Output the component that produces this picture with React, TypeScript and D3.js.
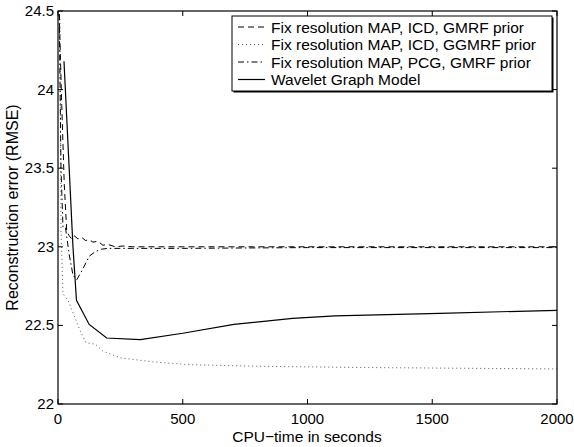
import React from "react";
import * as d3 from "d3";

const xTicks = [0, 500, 1000, 1500, 2000];
const yTicks = [22, 22.5, 23, 23.5, 24, 24.5];

const dashT = [5, 15, 25, 35, 45, 55, 65, 80, 95, 110, 125, 140, 160, 180, 200, 230, 260, 300, 400, 500, 700, 1000, 1500, 2000];
const dashV = [24.48, 23.9, 23.4, 23.1, 23.07, 23.05, 23.07, 23.05, 23.06, 23.04, 23.045, 23.03, 23.035, 23.01, 23.015, 23.0, 23.005, 23.0, 23.0, 23.0, 23.0, 23.0, 23.0, 23.0];

const dotT = [8, 12, 20, 40, 60, 88, 112, 150, 180, 250, 380, 530, 800, 1230, 2000];
const dotV = [24.45, 23.1, 22.7, 22.66, 22.58, 22.47, 22.39, 22.38, 22.336, 22.294, 22.268, 22.25, 22.24, 22.232, 22.223];

const dashDotT = [5, 12, 20, 30, 45, 60, 75, 100, 125, 150, 175, 200, 300, 500, 1000, 2000];
const dashDotV = [24.48, 23.5, 23.12, 23.12, 22.95, 22.82, 22.79, 22.86, 22.94, 22.97, 22.985, 22.99, 22.99, 22.99, 22.995, 22.995];

const solidT = [24, 60, 74, 125, 195, 330, 500, 705, 940, 1110, 1530, 2000];
const solidV = [24.18, 23.0, 22.66, 22.506, 22.42, 22.41, 22.45, 22.506, 22.545, 22.56, 22.577, 22.596];

const legendLabels = [
  "Fix resolution MAP, ICD, GMRF prior",
  "Fix resolution MAP, ICD, GGMRF prior",
  "Fix resolution MAP, PCG, GMRF prior",
  "Wavelet Graph Model",
];

const styles = [
  { dash: "6,4", color: "#000", w: 1 },
  { dash: "1,3", color: "#555", w: 1 },
  { dash: "6,3,1.5,3", color: "#000", w: 1 },
  { dash: "", color: "#000", w: 1.2 },
];

export default function App() {
  const W = 574, H = 447;
  const L = 58, R = 557, T = 11, B = 404;
  const x = d3.scaleLinear().domain([0, 2000]).range([L, R]);
  const y = d3.scaleLinear().domain([22, 24.5]).range([B, T]);
  const line = d3.line<[number, number]>().x(d => x(d[0])).y(d => y(d[1]));
  const series = [
    d3.zip(dashT, dashV) as [number, number][],
    d3.zip(dotT, dotV) as [number, number][],
    d3.zip(dashDotT, dashDotV) as [number, number][],
    d3.zip(solidT, solidV) as [number, number][],
  ];
  const font = "'Liberation Sans', Arial, Helvetica, sans-serif";
  const tl = 5;
  const lgX = 232, lgY = 16, lgW = 320, lgH = 75;
  return (
    <svg width={W} height={H} style={{ position: "absolute", left: 0, top: 0 }} fontFamily={font}>
      <rect width={W} height={H} fill="#fff" />
      {series.map((s, i) => (
        <path key={i} d={line(s) || ""} fill="none" stroke={styles[i].color}
          strokeWidth={styles[i].w} strokeDasharray={styles[i].dash} />
      ))}
      <rect x={L} y={T} width={R - L} height={B - T} fill="none" stroke="#000" strokeWidth={1.2} />
      {xTicks.map(t => (
        <g key={t}>
          <line x1={x(t)} x2={x(t)} y1={B} y2={B - tl} stroke="#000" />
          <line x1={x(t)} x2={x(t)} y1={T} y2={T + tl} stroke="#000" />
          <text x={x(t)} y={424} fontSize={15} textAnchor="middle">{t}</text>
        </g>
      ))}
      {yTicks.map(t => (
        <g key={t}>
          <line x1={L} x2={L + tl} y1={y(t)} y2={y(t)} stroke="#000" />
          <line x1={R} x2={R - tl} y1={y(t)} y2={y(t)} stroke="#000" />
          <text x={54} y={y(t) + 5} fontSize={15} textAnchor="end">{t}</text>
        </g>
      ))}
      <text x={307} y={442} fontSize={15.5} textAnchor="middle">CPU−time in seconds</text>
      <text transform={`translate(18,${(T + B) / 2}) rotate(-90)`} fontSize={16} textAnchor="middle">Reconstruction error (RMSE)</text>
      <rect x={lgX + 1.5} y={lgY + 1.5} width={lgW} height={lgH} fill="#000" />
      <rect x={lgX} y={lgY} width={lgW} height={lgH} fill="#fff" stroke="#000" strokeWidth={1} />
      {legendLabels.map((lab, i) => {
        const cy = lgY + 11 + i * 17.5;
        return (
          <g key={i}>
            <line x1={lgX + 6} x2={lgX + 33} y1={cy} y2={cy} stroke={styles[i].color}
              strokeWidth={styles[i].w} strokeDasharray={styles[i].dash} />
            <text x={lgX + 39} y={cy + 5.5} fontSize={15.5}>{lab}</text>
          </g>
        );
      })}
    </svg>
  );
}
